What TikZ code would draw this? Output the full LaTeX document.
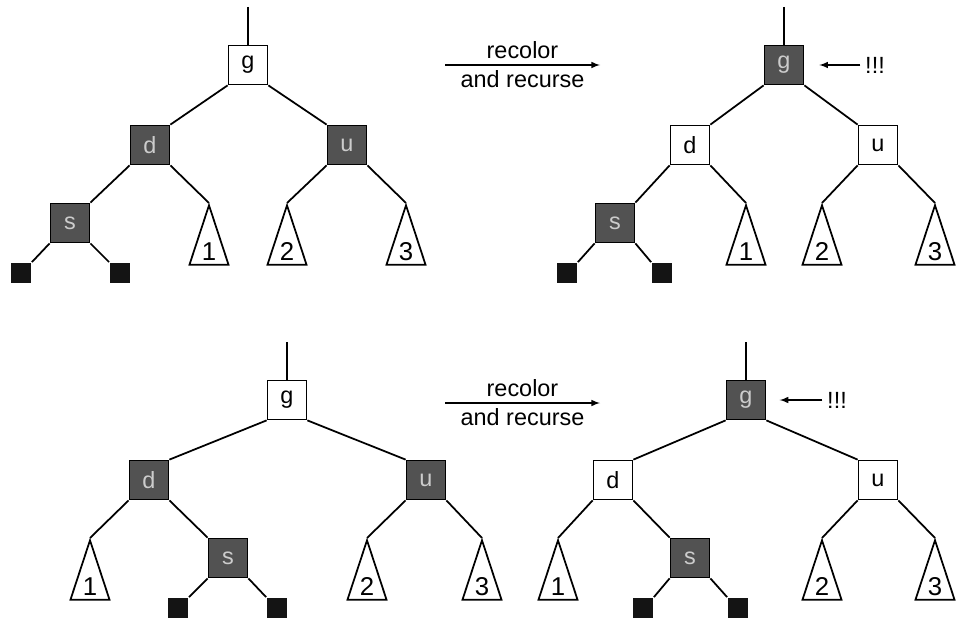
\documentclass[tikz,border=0pt]{standalone}
\usepackage{fontspec}
\setmainfont{Liberation Sans}
\usetikzlibrary{positioning,shapes,arrows}

\begin{document}
\begin{tikzpicture}[
  x=0.03cm, y=-0.03cm,
  line width=1.5pt,
  font=\fontsize{20}{24}\selectfont,
  blk/.style={rectangle, draw, fill=black!68, text=black!20, minimum size=1.17cm, inner sep=0pt},
  wht/.style={rectangle, draw, fill=white, minimum size=1.17cm, inner sep=0pt},
  nil/.style={rectangle, fill=black!92, minimum width=0.6cm, minimum height=0.6cm, inner sep=0pt},
  sub/.style={isosceles triangle, shape border rotate=90, isosceles triangle stretches, draw,
    minimum width=1.17cm, minimum height=1.78cm, inner sep=0pt, anchor=apex},
  num/.style={anchor=south, inner sep=3.5pt, font=\fontsize{22}{26}\selectfont}
]
\useasboundingbox (0,0) rectangle (977,619);

% top left: before
\coordinate (r1) at (248,7);
\node (g1) [wht] at (248,65) {g};
\node (d1) [blk] at (150,145) {d};
\node (u1) [blk] at (347,145) {u};
\node (s1) [blk] at (70,223) {s};
\node (l1a) [nil] at (21,273) {};
\node (l1b) [nil] at (120,273) {};
\node (t1a) [sub, label={[num]below:1}] at (209,203) {};
\node (t1b) [sub, label={[num]below:2}] at (287,203) {};
\node (t1c) [sub, label={[num]below:3}] at (406,203) {};
\draw (r1) -- (g1);
\draw (g1.south west) -- (d1.north east);
\draw (g1.south east) -- (u1.north west);
\draw (d1.south west) -- (s1.north east);
\draw (d1.south east) -- (t1a.apex);
\draw (u1.south west) -- (t1b.apex);
\draw (u1.south east) -- (t1c.apex);
\draw (s1.south west) -- (l1a.north east);
\draw (s1.south east) -- (l1b.north west);

\coordinate (a1s) at (445,65);
\coordinate (a1e) at (600,65);
\draw[-latex] (a1s) -- node[above=1pt]{recolor} node[below=1pt]{and recurse} (a1e);

% top right: after
\coordinate (r2) at (784,7);
\node (g2) [blk] at (784,65) {g};
\node (d2) [wht] at (690,145) {d};
\node (u2) [wht] at (878,145) {u};
\node (s2) [blk] at (615,223) {s};
\node (l2a) [nil] at (567,273) {};
\node (l2b) [nil] at (662,273) {};
\node (t2a) [sub, label={[num]below:1}] at (746,203) {};
\node (t2b) [sub, label={[num]below:2}] at (822,203) {};
\node (t2c) [sub, label={[num]below:3}] at (935,203) {};
\node (x2) at (875,65) {!!!};
\draw (r2) -- (g2);
\draw (g2.south west) -- (d2.north east);
\draw (g2.south east) -- (u2.north west);
\draw (d2.south west) -- (s2.north east);
\draw (d2.south east) -- (t2a.apex);
\draw (u2.south west) -- (t2b.apex);
\draw (u2.south east) -- (t2c.apex);
\draw (s2.south west) -- (l2a.north east);
\draw (s2.south east) -- (l2b.north west);
\draw[-latex, shorten >=0.45cm] (x2) -- (g2.east);

% bottom left: before
\coordinate (r3) at (287,342);
\node (g3) [wht] at (287,400) {g};
\node (d3) [blk] at (149,480) {d};
\node (u3) [blk] at (426,480) {u};
\node (s3) [blk] at (228,558) {s};
\node (l3a) [nil] at (178,608) {};
\node (l3b) [nil] at (277,608) {};
\node (t3a) [sub, label={[num]below:1}] at (90,538) {};
\node (t3b) [sub, label={[num]below:2}] at (367,538) {};
\node (t3c) [sub, label={[num]below:3}] at (482,538) {};
\draw (r3) -- (g3);
\draw (g3.south west) -- (d3.north east);
\draw (g3.south east) -- (u3.north west);
\draw (d3.south west) -- (t3a.apex);
\draw (d3.south east) -- (s3.north west);
\draw (u3.south west) -- (t3b.apex);
\draw (u3.south east) -- (t3c.apex);
\draw (s3.south west) -- (l3a.north east);
\draw (s3.south east) -- (l3b.north west);

\coordinate (a2s) at (445,403);
\coordinate (a2e) at (600,403);
\draw[-latex] (a2s) -- node[above=1pt]{recolor} node[below=1pt]{and recurse} (a2e);

% bottom right: after
\coordinate (r4) at (746,342);
\node (g4) [blk] at (746,400) {g};
\node (d4) [wht] at (613,480) {d};
\node (u4) [wht] at (878,480) {u};
\node (s4) [blk] at (690,558) {s};
\node (l4a) [nil] at (643,608) {};
\node (l4b) [nil] at (738,608) {};
\node (t4a) [sub, label={[num]below:1}] at (558,538) {};
\node (t4b) [sub, label={[num]below:2}] at (822,538) {};
\node (t4c) [sub, label={[num]below:3}] at (935,538) {};
\node (x4) at (837,400) {!!!};
\draw (r4) -- (g4);
\draw (g4.south west) -- (d4.north east);
\draw (g4.south east) -- (u4.north west);
\draw (d4.south west) -- (t4a.apex);
\draw (d4.south east) -- (s4.north west);
\draw (u4.south west) -- (t4b.apex);
\draw (u4.south east) -- (t4c.apex);
\draw (s4.south west) -- (l4a.north east);
\draw (s4.south east) -- (l4b.north west);
\draw[-latex, shorten >=0.4cm] (x4) -- (g4.east);

\end{tikzpicture}
\end{document}
